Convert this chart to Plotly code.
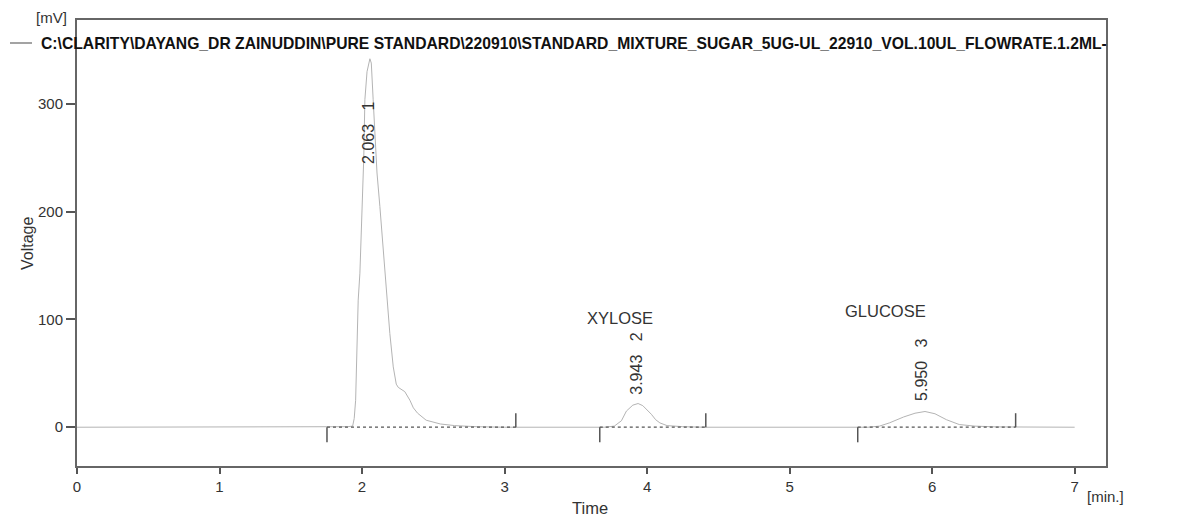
import plotly.graph_objects as go

# --- data ---
time_min = [0.00, 1.80, 1.90, 1.934, 1.945, 1.955, 1.965, 1.973, 1.985, 1.995, 2.004, 2.012,
            2.020, 2.035, 2.055, 2.065, 2.078, 2.090, 2.105, 2.125, 2.145, 2.160, 2.172,
            2.195, 2.219, 2.240, 2.254, 2.280, 2.300, 2.336, 2.360, 2.390, 2.450, 2.550,
            2.650, 2.800, 3.000, 3.700, 3.770, 3.820, 3.855, 3.900, 3.937, 3.970, 4.000,
            4.030, 4.060, 4.090, 4.140, 4.250, 4.400, 5.550, 5.630, 5.700, 5.800, 5.880,
            5.950, 6.020, 6.100, 6.190, 6.300, 6.450, 7.000]
voltage_mv = [0.0, 0.0, 0.5, 1.0, 8.0, 25.0, 70.0, 118.0, 143.0, 180.0, 211.0, 250.0,
              304.0, 330.0, 342.0, 338.0, 304.0, 270.0, 236.0, 205.0, 170.0, 143.0, 118.0,
              87.0, 56.0, 40.0, 37.0, 35.0, 33.0, 25.0, 18.0, 13.0, 6.5, 3.0,
              1.5, 0.5, 0.0, 0.0, 1.0, 6.0, 15.0, 20.5, 22.0, 20.0, 16.0,
              12.0, 7.0, 4.0, 1.5, 0.5, 0.0, 0.0, 1.0, 4.0, 9.5, 13.0,
              14.6, 12.5, 7.0, 2.5, 1.0, 0.3, 0.0]

peak_numbers = ["1", "2", "3"]
retention_times = ["2.063", "3.943", "5.950"]
peak_names = ["", "XYLOSE", "GLUCOSE"]
peak_start = [1.754, 3.668, 5.478]
peak_end = [3.079, 4.412, 6.586]

x_ticks = [0, 1, 2, 3, 4, 5, 6, 7]
y_ticks = [0, 100, 200, 300]

file_name = ("C:\\CLARITY\\DAYANG_DR ZAINUDDIN\\PURE STANDARD\\220910\\"
             "STANDARD_MIXTURE_SUGAR_5UG-UL_22910_VOL.10UL_FLOWRATE.1.2ML-")

# --- styling / layout config ---
FONT = "Arial, Liberation Sans, sans-serif"
TXT = "#333333"
W, H = 1178, 520
L, R, T, B = 77, 72, 20, 54
pw, ph = W - L - R, H - T - B

label_x = [2.045, 3.92, 5.925]       # label anchor (min)
label_base = [243, 28, 23]           # bottom of rotated labels (mV)
name_x = [0, 3.81, 5.67]
name_y = [0, 101, 108]
tick_down = -14
tick_up = 13


def px_to_paper(px, py):
    return (px - L) / pw, (H - B - py) / ph


fig = go.Figure()

fig.add_trace(go.Scatter(
    x=time_min, y=voltage_mv, mode="lines", name=file_name,
    line=dict(color="#b4b4b4", width=1), showlegend=False, hoverinfo="skip"))

for s, e in zip(peak_start, peak_end):
    fig.add_trace(go.Scatter(x=[s, e], y=[0, 0], mode="lines", showlegend=False,
                             line=dict(color="#555555", width=1.3, dash="dot"),
                             hoverinfo="skip"))
    fig.add_trace(go.Scatter(x=[s, s], y=[tick_down, 0], mode="lines", showlegend=False,
                             line=dict(color="#555555", width=1.5), hoverinfo="skip"))
    fig.add_trace(go.Scatter(x=[e, e], y=[0, tick_up], mode="lines", showlegend=False,
                             line=dict(color="#555555", width=1.5), hoverinfo="skip"))

annotations = []
for i in range(len(peak_numbers)):
    annotations.append(dict(
        x=label_x[i], y=label_base[i], xref="x", yref="y",
        text=retention_times[i] + "\u00a0\u00a0\u00a0" + peak_numbers[i],
        textangle=-90, showarrow=False, xanchor="center", yanchor="bottom",
        font=dict(family=FONT, size=16, color=TXT)))
    if peak_names[i]:
        annotations.append(dict(
            x=name_x[i], y=name_y[i], xref="x", yref="y", text=peak_names[i],
            showarrow=False, xanchor="center", yanchor="middle",
            font=dict(family=FONT, size=16.5, color=TXT)))

# axis titles / units, placed in pixel positions converted to paper coords
for text, px, py, ang, sz in [("[mV]", 51, 18, 0, 15), ("Voltage", 27, 244, -90, 16),
                              ("Time", 590, 508, 0, 16.5), ("[min.]", 1105, 496, 0, 15)]:
    ax, ay = px_to_paper(px, py)
    annotations.append(dict(x=ax, y=ay, xref="paper", yref="paper", text=text,
                            textangle=ang, showarrow=False, xanchor="center",
                            yanchor="middle", font=dict(family=FONT, size=sz, color=TXT)))

# legend-like header: short line sample + bold file name
lx, ly = px_to_paper(39, 43)
annotations.append(dict(x=lx, y=ly, xref="paper", yref="paper", text="<b>" + file_name + "</b>",
                        showarrow=False, xanchor="left", yanchor="middle",
                        font=dict(family=FONT, size=15.7, color="#111111")))
x0, y0 = px_to_paper(10, 43)
x1, _ = px_to_paper(32, 43)
shapes = [dict(type="line", xref="paper", yref="paper", x0=x0, x1=x1, y0=y0, y1=y0,
               line=dict(color="#666666", width=1.2))]

fig.update_layout(
    width=W, height=H,
    margin=dict(l=L, r=R, t=T, b=B, autoexpand=False),
    paper_bgcolor="white", plot_bgcolor="white",
    font=dict(family=FONT, size=15, color=TXT),
    annotations=annotations, shapes=shapes, showlegend=False,
    xaxis=dict(range=[0, 7.22], tickvals=x_ticks, ticktext=[str(v) for v in x_ticks],
               showgrid=False, zeroline=False, showline=True, linecolor="#666666",
               linewidth=2, mirror=True, ticks="outside", ticklen=6, tickwidth=1.5,
               tickcolor="#555555", tickfont=dict(family=FONT, size=15, color=TXT)),
    yaxis=dict(range=[-36, 378], tickvals=y_ticks, ticktext=[str(v) for v in y_ticks],
               showgrid=False, zeroline=False, showline=True, linecolor="#666666",
               linewidth=2, mirror=True, ticks="outside", ticklen=9, tickwidth=1.5,
               tickcolor="#555555", tickfont=dict(family=FONT, size=15, color=TXT)),
)

fig.write_html("out.html")
